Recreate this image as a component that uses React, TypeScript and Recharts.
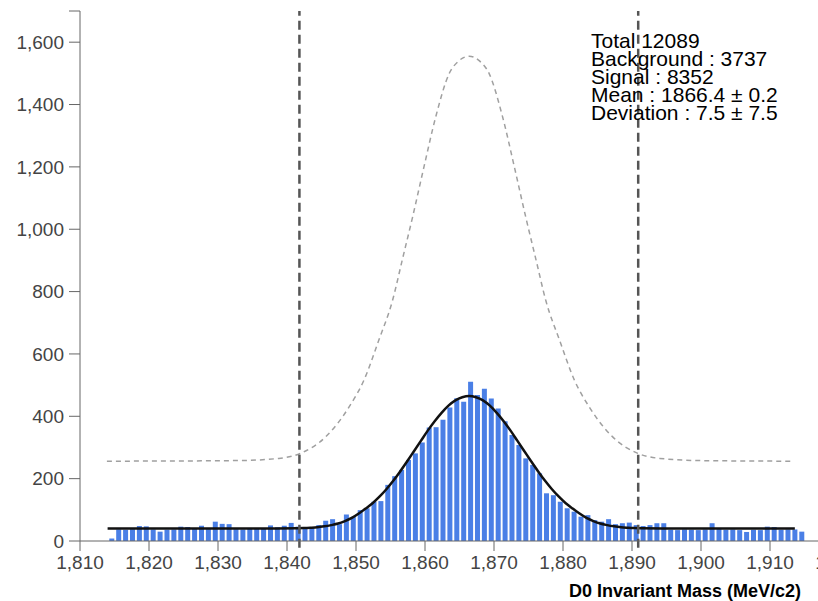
import React from "react";
import { ComposedChart, Bar, Line, XAxis, YAxis, ReferenceLine } from "recharts";

const FONT = "'Liberation Sans', Arial, Helvetica, sans-serif";

// histogram: 1 MeV bins, first bin centred at 1814.6
const binStart = 1814.6;
const counts = [
  8, 37, 36, 38, 48, 47, 37, 30, 36, 37,
  46, 45, 40, 49, 38, 62, 55, 54, 38, 37,
  39, 40, 41, 50, 44, 49, 58, 46, 44, 44,
  51, 65, 70, 54, 85, 78, 99, 105, 126, 128,
  180, 208, 228, 260, 281, 316, 364, 365, 389, 428,
  458, 447, 511, 468, 488, 457, 425, 384, 340, 308,
  265, 244, 217, 153, 147, 126, 105, 94, 78, 83,
  67, 62, 70, 54, 57, 59, 51, 48, 51, 57,
  57, 36, 35, 37, 36, 35, 37, 57, 38, 36,
  37, 35, 29, 36, 35, 46, 45, 36, 37, 37,
  30,
];

// fitted signal + background (solid black)
const fitCurve: [number, number][] = [
  [1814, 40], [1838.4, 40.3], [1841.4, 41], [1842.4, 41.5], [1843.4, 42.5],
  [1844.4, 44], [1845.4, 47], [1846.4, 51], [1847.4, 56], [1848.4, 64],
  [1849.4, 74], [1850.4, 88], [1851.4, 104], [1852.4, 121], [1853.4, 142],
  [1854.4, 166], [1855.4, 193], [1856.4, 223], [1857.4, 255], [1858.4, 288],
  [1859.4, 321], [1860.4, 354], [1861.4, 384], [1862.4, 411], [1863.4, 434],
  [1864.4, 451], [1865.4, 461], [1866.4, 465], [1867.4, 461], [1868.4, 451],
  [1869.4, 434], [1870.4, 411], [1871.4, 384], [1872.4, 354], [1873.4, 321],
  [1874.4, 288], [1875.4, 255], [1876.4, 223], [1877.4, 193], [1878.4, 166],
  [1879.4, 142], [1880.4, 121], [1881.4, 104], [1882.4, 88], [1883.4, 74],
  [1884.4, 64], [1885.4, 56], [1886.4, 51], [1887.4, 47], [1888.4, 44],
  [1889.4, 42.5], [1890.4, 41.5], [1891.4, 41], [1894.4, 40.3], [1913.6, 40],
];

// grey dashed envelope
const envelope: [number, number][] = [
  [1813.9, 256], [1833, 258], [1838.8, 265], [1841.95, 281], [1845.6, 334],
  [1849, 430], [1851.15, 516], [1853.3, 644], [1855.3, 772], [1856.7, 901],
  [1858.2, 1039], [1859.85, 1200], [1861.55, 1360], [1863.5, 1499], [1864.9, 1540],
  [1866.4, 1555], [1867.9, 1540], [1869.3, 1499], [1871.25, 1360], [1872.95, 1200],
  [1874.6, 1039], [1876.1, 901], [1877.5, 772], [1879.5, 644], [1881.65, 516],
  [1883.8, 430], [1887.2, 334], [1890.85, 281], [1894, 265], [1899.8, 258],
  [1913, 256],
];

const windowLo = 1841.8;
const windowHi = 1890.9;

const xTicks = [1810, 1820, 1830, 1840, 1850, 1860, 1870, 1880, 1890, 1900, 1910, 1920];
const yTicks = [0, 200, 400, 600, 800, 1000, 1200, 1400, 1600, 1700];

const statLines = [
  "Total 12089",
  "Background : 3737",
  "Signal : 8352",
  "Mean : 1866.4 \u00b1 0.2",
  "Deviation : 7.5 \u00b1 7.5",
];

const histogram = counts.map((count, i) => ({ mass: binStart + i, count }));
const fitData = fitCurve.map(([mass, fit]) => ({ mass, fit }));
const envData = envelope.map(([mass, env]) => ({ mass, env }));

const fmt = (v: number) => v.toLocaleString("en-US");

export default function App() {
  return (
    <div
      style={{
        position: "absolute",
        left: 0,
        top: 0,
        width: 818,
        height: 601,
        overflow: "hidden",
        background: "#fff",
      }}
    >
      <ComposedChart
        width={870}
        height={601}
        data={histogram}
        margin={{ top: 11, right: 31, bottom: 30, left: 0 }}
      >
        <XAxis
          xAxisId="bins"
          dataKey="mass"
          type="number"
          domain={[1810, 1920]}
          ticks={xTicks}
          allowDataOverflow
          tickFormatter={fmt}
          tickSize={10}
          tickMargin={5}
          height={30}
          stroke="#666"
          tick={{ fill: "#444", fontSize: 19, fontFamily: FONT }}
        />
        <XAxis
          xAxisId="curves"
          dataKey="mass"
          type="number"
          domain={[1810, 1920]}
          allowDataOverflow
          hide
        />
        <YAxis
          type="number"
          domain={[0, 1700]}
          ticks={yTicks}
          allowDataOverflow
          tickFormatter={(v: number) => (v === 1700 ? "" : fmt(v))}
          width={80}
          tickSize={11}
          tickMargin={5}
          stroke="#666"
          tick={{ fill: "#444", fontSize: 19, fontFamily: FONT }}
        />
        <Bar xAxisId="bins" dataKey="count" fill="#4a7fe6" barSize={5} isAnimationActive={false} />
        <Line
          xAxisId="curves"
          data={envData}
          dataKey="env"
          type="monotone"
          stroke="#a0a0a0"
          strokeWidth={1.5}
          strokeDasharray="5 4"
          dot={false}
          activeDot={false}
          isAnimationActive={false}
        />
        <Line
          xAxisId="curves"
          data={fitData}
          dataKey="fit"
          type="monotone"
          stroke="#111"
          strokeWidth={2.5}
          dot={false}
          activeDot={false}
          isAnimationActive={false}
        />
        <ReferenceLine
          xAxisId="bins"
          segment={[{ x: windowLo, y: -22 }, { x: windowLo, y: 1700 }]}
          ifOverflow="visible"
          stroke="#555"
          strokeWidth={2.5}
          strokeDasharray="9 5"
        />
        <ReferenceLine
          xAxisId="bins"
          segment={[{ x: windowHi, y: -22 }, { x: windowHi, y: 1700 }]}
          ifOverflow="visible"
          stroke="#555"
          strokeWidth={2.5}
          strokeDasharray="9 5"
        />
      </ComposedChart>
      <svg
        width={818}
        height={601}
        style={{ position: "absolute", left: 0, top: 0, pointerEvents: "none" }}
      >
        {statLines.map((line, i) => (
          <text key={line} x={591} y={48 + i * 18} fontSize={21} fontFamily={FONT} fill="#000">
            {line}
          </text>
        ))}
        <text
          x={801}
          y={597}
          textAnchor="end"
          fontSize={18}
          fontWeight="bold"
          fontFamily={FONT}
          fill="#000"
        >
          D0 Invariant Mass (MeV/c2)
        </text>
      </svg>
    </div>
  );
}
